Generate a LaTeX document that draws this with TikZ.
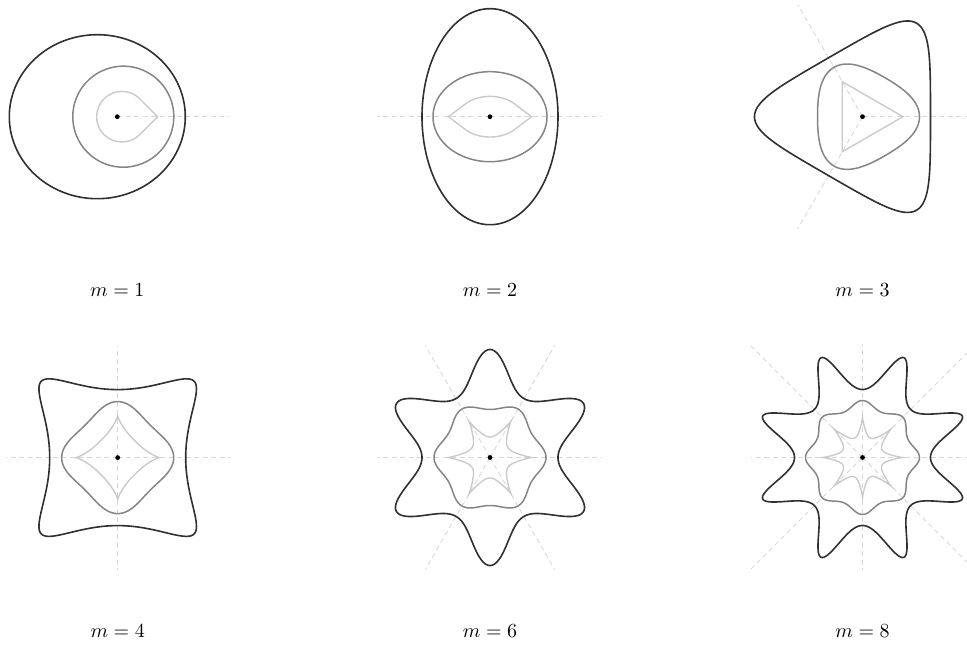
\documentclass[tikz,border=0pt]{standalone}
\usepackage{tikz}
\definecolor{cdark}{HTML}{303030}
\definecolor{cmid}{HTML}{858585}
\definecolor{clight}{HTML}{CACACA}
\definecolor{cray}{HTML}{D8D8D8}
\tikzset{
  outerc/.style={draw=cdark,line width=1.6pt,line join=round},
  midc/.style={draw=cmid,line width=1.5pt,line join=round},
  lightc/.style={draw=clight,line width=1.4pt,line join=miter,miter limit=20},
  ray/.style={draw=cray,line width=0.9pt,dash pattern=on 5pt off 3.5pt},
  cdot/.style={circle,fill=black,inner sep=0pt,minimum size=4.8pt},
  lab/.style={anchor=base,scale=2.0},
  declare function={
    lfold(\t,\mm)=abs(mod(\t+180/\mm,360/\mm)-180/\mm);
    lu(\vv,\ww)=(-(1-\ww)+sqrt((1-\ww)*(1-\ww)+4*\ww*\vv))/(2*\ww);
    lrad(\t,\mm,\rc,\rv,\ww)=\rc-(\rc-\rv)*sin(90*lu(lfold(\t,\mm)*\mm/180,\ww));
  }
}
% m, R, a, b, c, style :
% z = R e^{it} + a e^{i(1-m)t} + b e^{i(1+m)t} + c e^{i(1-2m)t}
\newcommand{\fcurve}[6]{%
  \draw[#6] plot[domain=0:360,samples=721,variable=\t]
   ({#2*cos(\t)+#3*cos((1-#1)*\t)+#4*cos((1+#1)*\t)+#5*cos((1-2*#1)*\t)},
    {#2*sin(\t)+#3*sin((1-#1)*\t)+#4*sin((1+#1)*\t)+#5*sin((1-2*#1)*\t)}) -- cycle;}
% star with m spikes: m, tip radius, valley radius, shape
\newcommand{\lstar}[4]{%
  \draw[lightc] plot[domain=0:360,samples=1441,variable=\t]
   (\t:{lrad(\t,#1,#2,#3,#4)}) -- cycle;}
% rays clipped to a square of half side 112
\newcommand{\rays}[1]{%
  \foreach \k in {1,...,#1}{%
    \pgfmathsetmacro{\ang}{360*(\k-1)/#1}%
    \pgfmathsetmacro{\len}{112/max(abs(cos(\ang)),abs(sin(\ang)))}%
    \draw[ray] (0,0) -- (\ang:\len);}}
\begin{document}
\begin{tikzpicture}[x=1pt,y=1pt]
\useasboundingbox (0,0) rectangle (967,646);
\clip (0,0) rectangle (967,646);
\coordinate (c1) at (117.3,529.3);
\coordinate (c2) at (490,529.3);
\coordinate (c3) at (862.5,529.3);
\coordinate (c4) at (117.7,188.4);
\coordinate (c5) at (490,188.5);
\coordinate (c6) at (862.5,188.5);
% m = 1
\begin{scope}[shift={(c1)}]
  \rays{1}
  \fcurve{1}{85}{-20}{0}{3}{outerc}
  \fcurve{1}{50.5}{6}{0}{0}{midc}
  \draw[lightc] (40.3,0) -- (22.5,17.9) arc[start angle=45,end angle=315,radius=25.3] -- cycle;
  \node[cdot] (d1) at (0,0) {};
\end{scope}
% m = 2
\begin{scope}[shift={(c2)}]
  \rays{2}
  \fcurve{2}{88}{-20}{0}{0}{outerc}
  \fcurve{2}{51}{6}{0}{0}{midc}
  \draw[lightc] (41.5,0) -- plot[domain=40.6:139.4,samples=60,variable=\t] ({31.6*cos(\t)},{20.3*sin(\t)})
     -- (-41.5,0) -- plot[domain=220.6:319.4,samples=60,variable=\t] ({31.6*cos(\t)},{20.3*sin(\t)}) -- cycle;
  \node[cdot] (d2) at (0,0) {};
\end{scope}
% m = 3
\begin{scope}[shift={(c3)}]
  \rays{3}
  \fcurve{3}{88}{-19.5}{-0.5}{0}{outerc}
  \fcurve{3}{51}{5}{1}{0}{midc}
  \draw[lightc] (0:40.5) -- (120:40.5) -- (240:40.5) -- cycle;
  \node[cdot] (d3) at (0,0) {};
\end{scope}
% m = 4
\begin{scope}[shift={(c4)}]
  \rays{4}
  \fcurve{4}{88}{-18}{-2}{0}{outerc}
  \fcurve{4}{51}{3.5}{1.5}{0}{midc}
  \lstar{4}{41.7}{24}{0.75}
  \node[cdot] (d4) at (0,0) {};
\end{scope}
% m = 6
\begin{scope}[shift={(c5)}]
  \rays{6}
  \fcurve{6}{88}{-13}{-7}{0}{outerc}
  \fcurve{6}{52}{2.5}{1.5}{0}{midc}
  \lstar{6}{41.8}{20.5}{0.75}
  \node[cdot] (d5) at (0,0) {};
\end{scope}
% m = 8
\begin{scope}[shift={(c6)}]
  \rays{8}
  \fcurve{8}{88}{-13}{-7}{0}{outerc}
  \fcurve{8}{53}{2.5}{1.5}{0}{midc}
  \lstar{8}{40}{21}{0.75}
  \node[cdot] (d6) at (0,0) {};
\end{scope}
% labels
\node[lab] (l1) at (117.3,349.3) {$m = 1$};
\node[lab] (l2) at (490,349.3) {$m = 2$};
\node[lab] (l3) at (862.5,349.3) {$m = 3$};
\node[lab] (l4) at (117.7,8.3) {$m = 4$};
\node[lab] (l5) at (490,8.3) {$m = 6$};
\node[lab] (l6) at (862.5,8.3) {$m = 8$};
\end{tikzpicture}
\end{document}
